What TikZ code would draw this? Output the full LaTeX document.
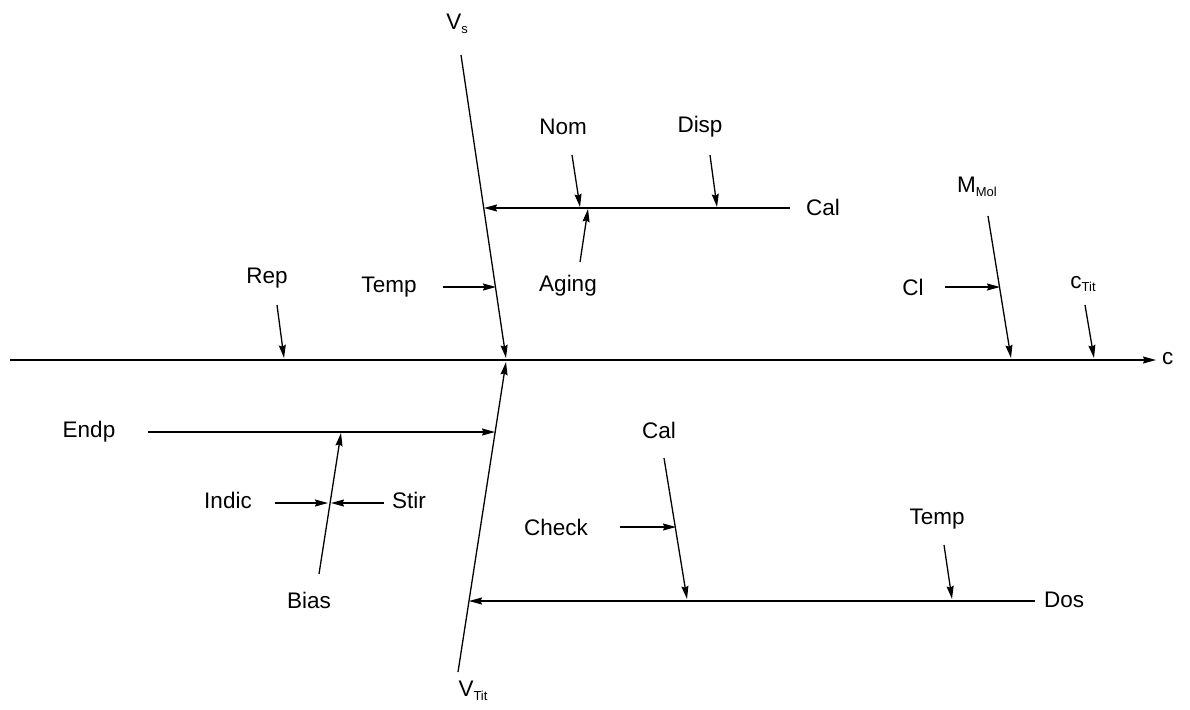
\documentclass[tikz,border=0pt]{standalone}
\usepackage{fontspec}
\setmainfont{Liberation Sans}
\usetikzlibrary{arrows.meta}
\newcommand{\sbs}[1]{\raisebox{-0.3ex}{\fontsize{13}{13}\selectfont #1}}
\begin{document}
\begin{tikzpicture}[x=1pt,y=-1pt,
  lbl/.style={inner sep=0pt,font=\fontsize{22.5}{26}\selectfont},
  ln/.style={line width=1.3pt,black},
  arr/.style={ln,-{Stealth[length=13pt,width=7pt,inset=1.5pt]}}]
\useasboundingbox (0,0) rectangle (1190,709);

% main effect axis
\coordinate (c0) at (10,360);
\coordinate (c1) at (1156,360);
\node[lbl,anchor=west] (cL) at (1162,359) {c};
\draw[arr] (c0) -- (c1);

% main branches
\coordinate (vsA) at (461,55);
\coordinate (vsB) at (506,358);
\coordinate (vtA) at (458,672);
\coordinate (vtB) at (506,362);
\node[lbl] (vsL) at (457,24) {V\sbs{s}};
\node[lbl] (vtL) at (473,691) {V\sbs{Tit}};
\draw[arr] (vsA) -- (vsB);
\draw[arr] (vtA) -- (vtB);

% upper left causes
\node[lbl] (calU) at (823,207) {Cal};
\coordinate (calUa) at (790,208);
\coordinate (calUb) at (484,208);
\draw[arr] (calUa) -- (calUb);

\node[lbl] (nom) at (563,127) {Nom};
\coordinate (nomA) at (572,155);
\coordinate (nomB) at (580,207);
\draw[arr] (nomA) -- (nomB);

\node[lbl] (disp) at (700,127) {Disp};
\coordinate (dispA) at (710,155);
\coordinate (dispB) at (717,207);
\draw[arr] (dispA) -- (dispB);

\node[lbl] (aging) at (568,286) {Aging};
\coordinate (agA) at (580,262);
\coordinate (agB) at (588,209);
\draw[arr] (agA) -- (agB);

\node[lbl] (tempU) at (389,287) {Temp};
\coordinate (tempUa) at (443,287);
\coordinate (tempUb) at (496,287);
\draw[arr] (tempUa) -- (tempUb);

\node[lbl] (rep) at (267,278) {Rep};
\coordinate (repA) at (277,305);
\coordinate (repB) at (284,358);
\draw[arr] (repA) -- (repB);

% upper right causes
\node[lbl] (mmol) at (977,187) {M\sbs{Mol}};
\coordinate (mA) at (988,216);
\coordinate (mB) at (1011,358);
\draw[arr] (mA) -- (mB);

\node[lbl] (cl) at (913,287) {Cl};
\coordinate (clA) at (945,287);
\coordinate (clB) at (1000,287);
\draw[arr] (clA) -- (clB);

\node[lbl] (ctit) at (1083,284) {c\sbs{Tit}};
\coordinate (ctA) at (1085,305);
\coordinate (ctB) at (1094,358);
\draw[arr] (ctA) -- (ctB);

% lower left causes
\node[lbl] (endp) at (89,432) {Endp};
\coordinate (endpA) at (148,432);
\coordinate (endpB) at (495,432);
\draw[arr] (endpA) -- (endpB);

\node[lbl] (bias) at (309,600) {Bias};
\coordinate (biasA) at (319,574);
\coordinate (biasB) at (341,433);
\draw[arr] (biasA) -- (biasB);

\node[lbl] (indic) at (228,500) {Indic};
\coordinate (indA) at (275,503);
\coordinate (indB) at (328,503);
\draw[arr] (indA) -- (indB);

\node[lbl] (stir) at (409,500) {Stir};
\coordinate (stA) at (384,503);
\coordinate (stB) at (331,503);
\draw[arr] (stA) -- (stB);

% lower right causes
\node[lbl] (dos) at (1064,600) {Dos};
\coordinate (dosA) at (1035,601);
\coordinate (dosB) at (469,601);
\draw[arr] (dosA) -- (dosB);

\node[lbl] (calL) at (659,430) {Cal};
\coordinate (calLa) at (664,458);
\coordinate (calLb) at (687,599);
\draw[arr] (calLa) -- (calLb);

\node[lbl] (check) at (556,527) {Check};
\coordinate (chA) at (620,527);
\coordinate (chB) at (676,527);
\draw[arr] (chA) -- (chB);

\node[lbl] (tempL) at (937,519) {Temp};
\coordinate (tempLa) at (944,545);
\coordinate (tempLb) at (952,599);
\draw[arr] (tempLa) -- (tempLb);
\end{tikzpicture}
\end{document}
